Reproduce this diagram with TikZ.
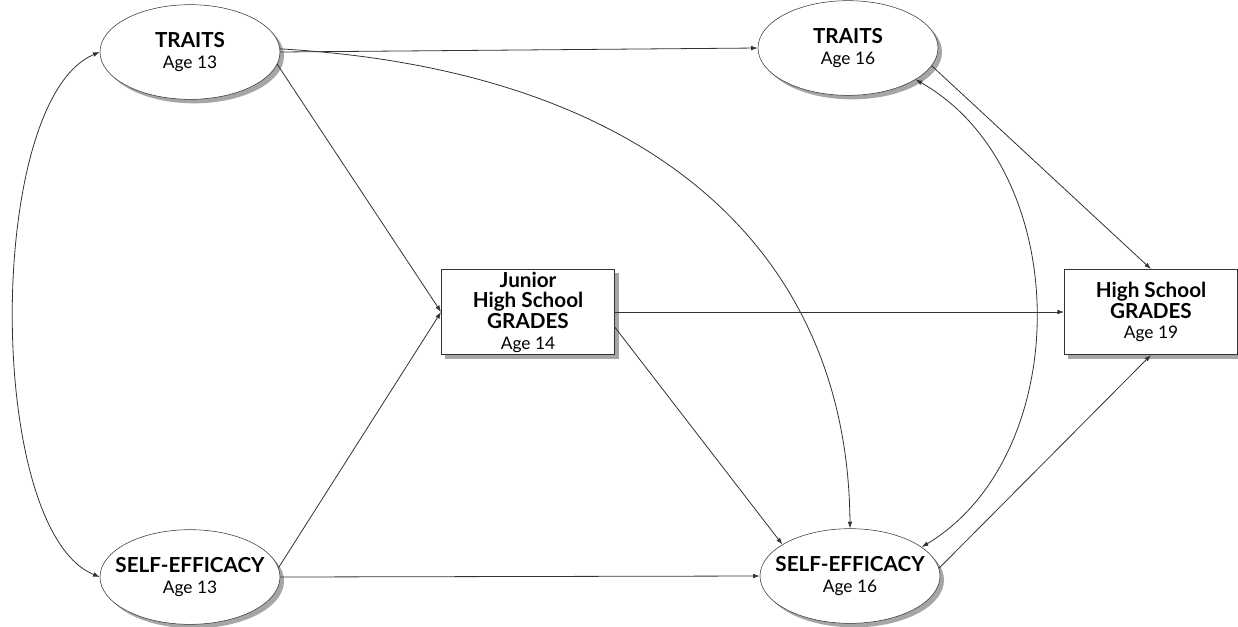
\documentclass[tikz,border=0pt]{standalone}
\usepackage{fontspec}
\setmainfont{Lato}
\usetikzlibrary{shapes.geometric,shadows,arrows.meta}

\begin{document}
\begin{tikzpicture}[x=0.75pt,y=-0.75pt,>={Latex[length=5pt,width=3.5pt]}]
        \tikzstyle{every node}=[align=center,font=\fontsize{13}{15.5}\selectfont,inner sep=1pt]
        \tikzstyle{latent}=[ellipse,draw=black!80,fill=white,minimum width=135pt,minimum height=71pt,inner xsep=-14pt,
            drop shadow={opacity=1,shadow xshift=3pt,shadow yshift=-3pt,fill=black!35}]
        \tikzstyle{observed}=[rectangle,draw=black!80,fill=white,minimum width=130pt,minimum height=64pt,
            drop shadow={opacity=1,shadow xshift=3pt,shadow yshift=-3pt,fill=black!35}]
        \tikzstyle{path}=[->,draw=black!80,line width=0.6pt]
        \tikzstyle{cov}=[<->,draw=black!80,line width=0.6pt]
        \newcommand{\hd}[1]{{\fontsize{15.5}{16}\selectfont\bfseries #1}}
        \useasboundingbox[fill=white] (0,0) rectangle (1238,626);
        % nodes
        \node[latent] (t13) at (190,52) {\hd{TRAITS}\\Age 13};
        \node[latent] (s13) at (190,577) {\hd{SELF-EFFICACY}\\Age 13};
        \node[observed] (jhs) at (528,312) {\hd{Junior}\\\hd{High School}\\\hd{GRADES}\\Age 14};
        \node[latent] (t16) at (848,48) {\hd{TRAITS}\\Age 16};
        \node[latent] (s16) at (850,576) {\hd{SELF-EFFICACY}\\Age 16};
        \node[observed] (hs) at (1151,312) {\hd{High School}\\\hd{GRADES}\\Age 19};
        % paths
        \draw[path] (t13.east) -- (t16.west);
        \draw[path] (t13.-8) -- (jhs.west);
        \draw[path] (t13.2) .. controls (650,70) and (848,250) .. (s16.north);
        \draw[path] (s13.6) -- (jhs.west);
        \draw[path] (s13.east) -- (s16.west);
        \draw[path] (jhs.east) -- (hs.west);
        \draw[path] (jhs.-10) -- (s16.155);
        \draw[path] (t16.-12) -- (hs.north);
        \draw[path] (s16.5) -- (hs.south);
        % covariances
        \draw[cov] (t13.west) .. controls (-15,100) and (-15,530) .. (s13.west);
        \draw[cov] (t16.-25) .. controls (1075,170) and (1075,455) .. (s16.22);
\end{tikzpicture}
\end{document}
